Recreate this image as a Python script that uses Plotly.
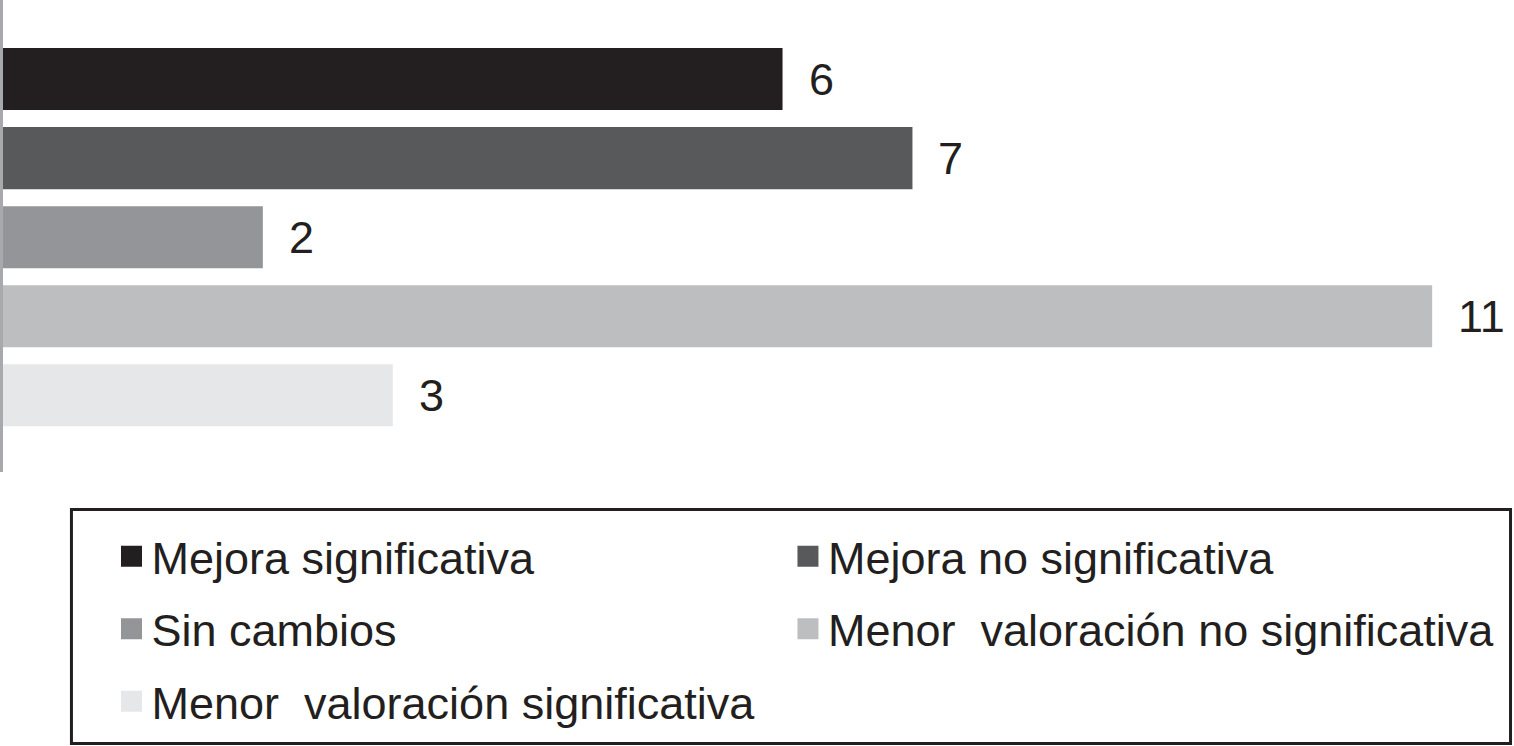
"""
Horizontal bar chart: cambio en la valoración (número de casos por categoría)
"""

import plotly.graph_objects as go

# Data
categories = [
    "Mejora significativa",
    "Mejora no significativa",
    "Sin cambios",
    "Menor\u00a0 valoración no significativa",
    "Menor\u00a0 valoración significativa",
]
values = [6, 7, 2, 11, 3]
bar_colors = ["#231f20", "#58595b", "#939598", "#bcbec0", "#e6e7e8"]
# which legend column each category goes to (reading order left→right)
legend_column = ["legend", "legend2", "legend", "legend2", "legend"]

FONT = "Liberation Sans, Arial, Helvetica, sans-serif"
TEXT_COLOR = "#231f20"


def legend_style(x):
    return dict(
        orientation="v",
        x=x,
        xanchor="left",
        y=-0.1025,
        yanchor="top",
        tracegroupgap=11,
        borderwidth=0,
        bgcolor="rgba(0,0,0,0)",
        font=dict(family=FONT, size=45, color=TEXT_COLOR),
    )


def build_figure():
    fig = go.Figure()

    # one trace per bar so each category gets its own colour
    for cat, val, col in zip(categories, values, bar_colors):
        fig.add_trace(go.Bar(
            x=[val],
            y=[cat],
            orientation="h",
            marker_color=col,
            marker_line_width=0,
            showlegend=False,
            hoverinfo="x+y",
        ))

    # legend entries with larger square symbols, split over two columns
    for cat, col, leg in zip(categories, bar_colors, legend_column):
        fig.add_trace(go.Scatter(
            x=[None],
            y=[None],
            mode="markers",
            marker=dict(symbol="square", size=16, color=col,
                        line=dict(color=col, width=5)),
            name=cat,
            legend=leg,
            legendgroup=cat,
            showlegend=True,
        ))

    # value labels to the right of each bar
    for cat, val in zip(categories, values):
        fig.add_annotation(
            x=val, y=cat, xref="x", yref="y",
            text=str(val), showarrow=False,
            xanchor="left", xshift=24,
            font=dict(family=FONT, size=45, color=TEXT_COLOR),
        )

    # frame around the legend
    fig.add_shape(
        type="rect", xref="paper", yref="paper",
        x0=0.0453, x1=0.9977, y0=-0.0795, y1=-0.5752,
        line=dict(color="#231f20", width=3),
        fillcolor="rgba(0,0,0,0)",
    )

    fig.update_layout(
        width=1514,
        height=746,
        margin=dict(l=3, r=0, t=0, b=274),
        paper_bgcolor="white",
        plot_bgcolor="white",
        barmode="overlay",
        bargap=0.215,
        font=dict(family=FONT, size=45, color=TEXT_COLOR),
        legend=legend_style(0.0718),
        legend2=legend_style(0.5195),
        xaxis=dict(
            range=[0, 11.63],
            showgrid=False,
            zeroline=False,
            showticklabels=False,
            showline=False,
            fixedrange=True,
        ),
        yaxis=dict(
            type="category",
            categoryorder="array",
            categoryarray=categories,
            range=[4.97, -1.0],
            showgrid=False,
            zeroline=False,
            showticklabels=False,
            showline=True,
            linecolor="#a7a9ac",
            linewidth=3,
            fixedrange=True,
        ),
    )
    return fig


def main():
    fig = build_figure()
    # drop the browser's default body margin so the figure sits at 0,0
    fig.write_html(
        "out.html",
        config={"displayModeBar": False},
        post_script="document.body.style.margin='0';",
    )


if __name__ == "__main__":
    main()
